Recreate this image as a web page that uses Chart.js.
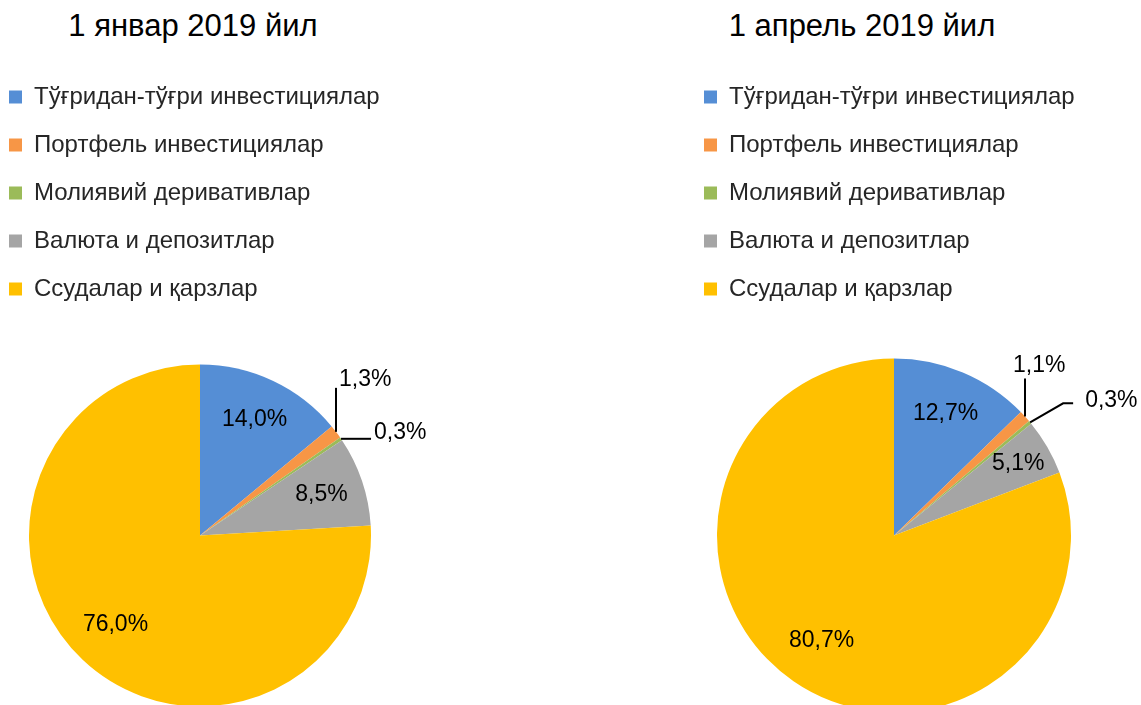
<!DOCTYPE html>
<html>
<head>
<meta charset="utf-8">
<script src="https://cdn.jsdelivr.net/npm/chart.js@4"></script>
<style>
  html, body { margin: 0; padding: 0; background: #fff; }
  body { width: 1141px; height: 705px; overflow: hidden; position: relative; }
  .box { position: absolute; top: 0; }
  .title {
    position: absolute; top: 10px; width: 400px; text-align: center;
    font: 31px "Liberation Sans", Arial, sans-serif; line-height: 31px; color: #000;
    white-space: nowrap;
  }
</style>
</head>
<body>
<div class="title" style="left:-7px">1 январ 2019 йил</div>
<div class="title" style="left:662px">1 апрель 2019 йил</div>
<div class="box" style="left:-15px;width:500px;height:760px"><canvas id="pieJan"></canvas></div>
<div class="box" style="left:680px;width:498px;height:760px"><canvas id="pieApr"></canvas></div>
<script>
// categories and values (percent of total)
const categories = [
  "Тўғридан-тўғри инвестициялар",
  "Портфель инвестициялар",
  "Молиявий деривативлар",
  "Валюта и депозитлар",
  "Ссудалар и қарзлар",
];
const janValues = [14.0, 1.3, 0.3, 8.5, 76.0];
const aprValues = [12.7, 1.1, 0.3, 5.1, 80.7];

const COLORS = ["#558ED5", "#F79646", "#9BBB59", "#A5A5A5", "#FFC000"];
const FONT = "'Liberation Sans', Arial, sans-serif";
// extra room on the right so the outside labels are not cut off
const RIGHT_ROOM = 70;

// Draws percent labels inside slices, and with leader lines for the thin ones
const sliceLabels = {
  id: "sliceLabels",
  afterDatasetsDraw(chart, args, opts) {
    const ctx = chart.ctx;
    const meta = chart.getDatasetMeta(0);
    const values = chart.data.datasets[0].data;
    ctx.save();
    ctx.font = "23px " + FONT;
    ctx.fillStyle = "#000";
    ctx.strokeStyle = "#000";
    ctx.lineWidth = 2;
    ctx.textBaseline = "middle";
    meta.data.forEach((arc, i) => {
      const p = arc.getProps(["x", "y", "startAngle", "endAngle", "outerRadius"], true);
      const mid = (p.startAngle + p.endAngle) / 2;
      const text = values[i].toFixed(1).replace(".", ",") + "%";
      const leader = opts.leaders[i];
      if (leader) {
        const ex = p.x + Math.cos(mid) * p.outerRadius;
        const ey = p.y + Math.sin(mid) * p.outerRadius;
        ctx.beginPath();
        leader.path.forEach(([dx, dy], k) => {
          if (k === 0) ctx.moveTo(ex + dx, ey + dy);
          else ctx.lineTo(ex + dx, ey + dy);
        });
        ctx.stroke();
        ctx.textAlign = "left";
        ctx.fillText(text, ex + leader.text[0], ey + leader.text[1]);
      } else {
        const r = p.outerRadius * (opts.inset[i] || 0.75);
        ctx.textAlign = "center";
        ctx.fillText(text, p.x + Math.cos(mid) * r, p.y + Math.sin(mid) * r);
      }
    });
    ctx.restore();
  },
};

function makePie(canvasId, values, radius, inset, leaders) {
  return new Chart(document.getElementById(canvasId), {
    type: "pie",
    data: {
      labels: categories,
      datasets: [{
        data: values,
        backgroundColor: COLORS,
        borderWidth: 0,
        radius: radius,
      }],
    },
    plugins: [sliceLabels],
    options: {
      responsive: true,
      maintainAspectRatio: false,
      animation: false,
      layout: { padding: { top: 61, bottom: 0, left: 0, right: RIGHT_ROOM } },
      plugins: {
        title: { display: false },
        tooltip: { enabled: false },
        legend: {
          position: "top",
          align: "start",
          labels: {
            boxWidth: 13,
            boxHeight: 13,
            padding: 24,
            color: "#262626",
            font: { family: FONT, size: 24 },
          },
        },
        sliceLabels: { inset: inset, leaders: leaders },
      },
    },
  });
}

makePie("pieJan", janValues, 171, [0.75, 0, 0, 0.75, 0.72], {
  1: { path: [[0, 0], [0, -44]], text: [3, -52] },
  2: { path: [[0, 0], [30, 0]], text: [33, -6] },
});
makePie("pieApr", aprValues, 177, [0.75, 0, 0, 0.81, 0.72], {
  1: { path: [[0, 0], [0, -38]], text: [-12, -51] },
  2: { path: [[0, 0], [33, -19], [43, -19]], text: [55, -22] },
});
</script>
</body>
</html>
